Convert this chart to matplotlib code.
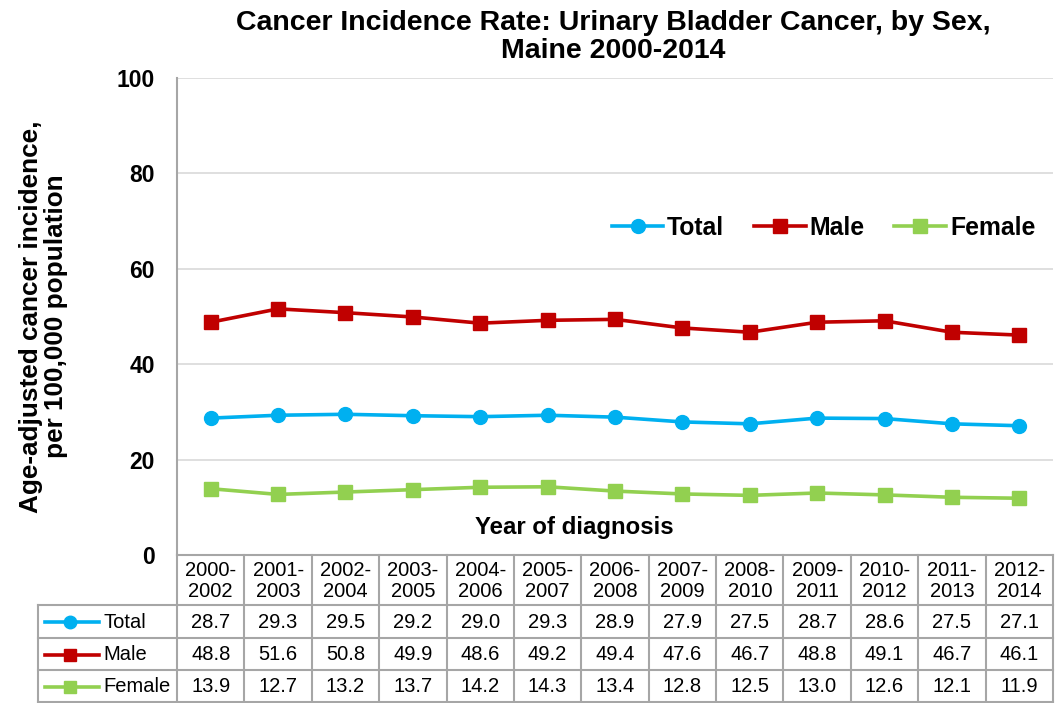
import matplotlib.pyplot as plt
import matplotlib.transforms as mtransforms
from matplotlib.lines import Line2D

plt.rcParams['font.family'] = ['Liberation Sans', 'DejaVu Sans']

periods = ["2000-\n2002", "2001-\n2003", "2002-\n2004", "2003-\n2005", "2004-\n2006",
           "2005-\n2007", "2006-\n2008", "2007-\n2009", "2008-\n2010", "2009-\n2011",
           "2010-\n2012", "2011-\n2013", "2012-\n2014"]
total = [28.7, 29.3, 29.5, 29.2, 29.0, 29.3, 28.9, 27.9, 27.5, 28.7, 28.6, 27.5, 27.1]
male = [48.8, 51.6, 50.8, 49.9, 48.6, 49.2, 49.4, 47.6, 46.7, 48.8, 49.1, 46.7, 46.1]
female = [13.9, 12.7, 13.2, 13.7, 14.2, 14.3, 13.4, 12.8, 12.5, 13.0, 12.6, 12.1, 11.9]

series = [("Total", total, "#00B0F0", "o"),
          ("Male", male, "#C00000", "s"),
          ("Female", female, "#92D050", "s")]

W, H = 1055, 703
fig = plt.figure(figsize=(W / 100, H / 100), dpi=100)
ax = fig.add_axes([177 / W, 1 - 555 / H, 876 / W, 477 / H])

x = list(range(len(periods)))
for name, vals, col, mk in series:
    ax.plot(x, vals, color=col, lw=2.6, marker=mk, markersize=10, label=name)

ax.set_xlim(-0.5, len(periods) - 0.5)
ax.set_ylim(0, 100)
ax.set_yticks(range(0, 101, 20))
ax.set_xticks([])
ax.tick_params(axis='y', length=0, pad=16, labelsize=16.5)
for t in ax.get_yticklabels():
    t.set_fontweight('bold')
ax.grid(axis='y', color='#d9d9d9', lw=1.2)
ax.set_axisbelow(True)
for s in ['top', 'right', 'bottom']:
    ax.spines[s].set_visible(False)
ax.spines['left'].set_color('#a6a6a6')
ax.spines['left'].set_linewidth(1.5)

ax.set_ylabel("Age-adjusted cancer incidence,\nper 100,000 population",
              fontsize=18.8, fontweight='bold', linespacing=1.05)
ax.yaxis.set_label_coords(-0.124, 0.5)
fig.text(613 / W, 1 - 37 / H,
         "Cancer Incidence Rate: Urinary Bladder Cancer, by Sex,\nMaine 2000-2014",
         ha='center', va='center', fontsize=20.5, fontweight='bold', linespacing=1.15)
ax.text(0.454, 0.057, "Year of diagnosis", transform=ax.transAxes,
        ha='center', va='center', fontsize=17.3, fontweight='bold')

ax.legend(loc='center', bbox_to_anchor=(0.738, 0.686), ncol=3, frameon=False,
          prop={'weight': 'bold', 'size': 17.8}, handlelength=2.1, columnspacing=1.2,
          handletextpad=0.15)

# data table below the axes
fy = lambda py: 1 - py / H
trans = mtransforms.blended_transform_factory(ax.transData, fig.transFigure)
gc = '#a6a6a6'
edges = [i - 0.5 for i in range(len(periods) + 1)]
for e in edges:
    ax.add_line(Line2D([e, e], [fy(555), fy(702)], transform=trans, color=gc,
                       lw=1.5, clip_on=False))
for py in [605, 638, 670, 702]:
    fig.add_artist(Line2D([38 / W, 1053 / W], [fy(py), fy(py)], color=gc, lw=1.5))
fig.add_artist(Line2D([38 / W, 38 / W], [fy(605), fy(702)], color=gc, lw=1.5))
fig.add_artist(Line2D([177 / W, 1053 / W], [fy(555), fy(555)], color=gc, lw=1.5))

for i, p in enumerate(periods):
    fig.text(0, fy(581), p, transform=trans, ha='center', va='center',
             fontsize=14.5, linespacing=1.12).set_x(i)
row_y = [622, 655, 687]
for (name, vals, col, mk), py in zip(series, row_y):
    for i, v in enumerate(vals):
        fig.text(0, fy(py), f"{v:.1f}", transform=trans, ha='center', va='center',
                 fontsize=14.5).set_x(i)
    fig.add_artist(Line2D([45 / W, 99 / W], [fy(py), fy(py)], color=col, lw=2.6))
    fig.add_artist(Line2D([70 / W], [fy(py)], color=col, marker=mk, markersize=9))
    fig.text(103 / W, fy(py), name, ha='left', va='center', fontsize=14.5)

fig.savefig("out.png", dpi=100)
